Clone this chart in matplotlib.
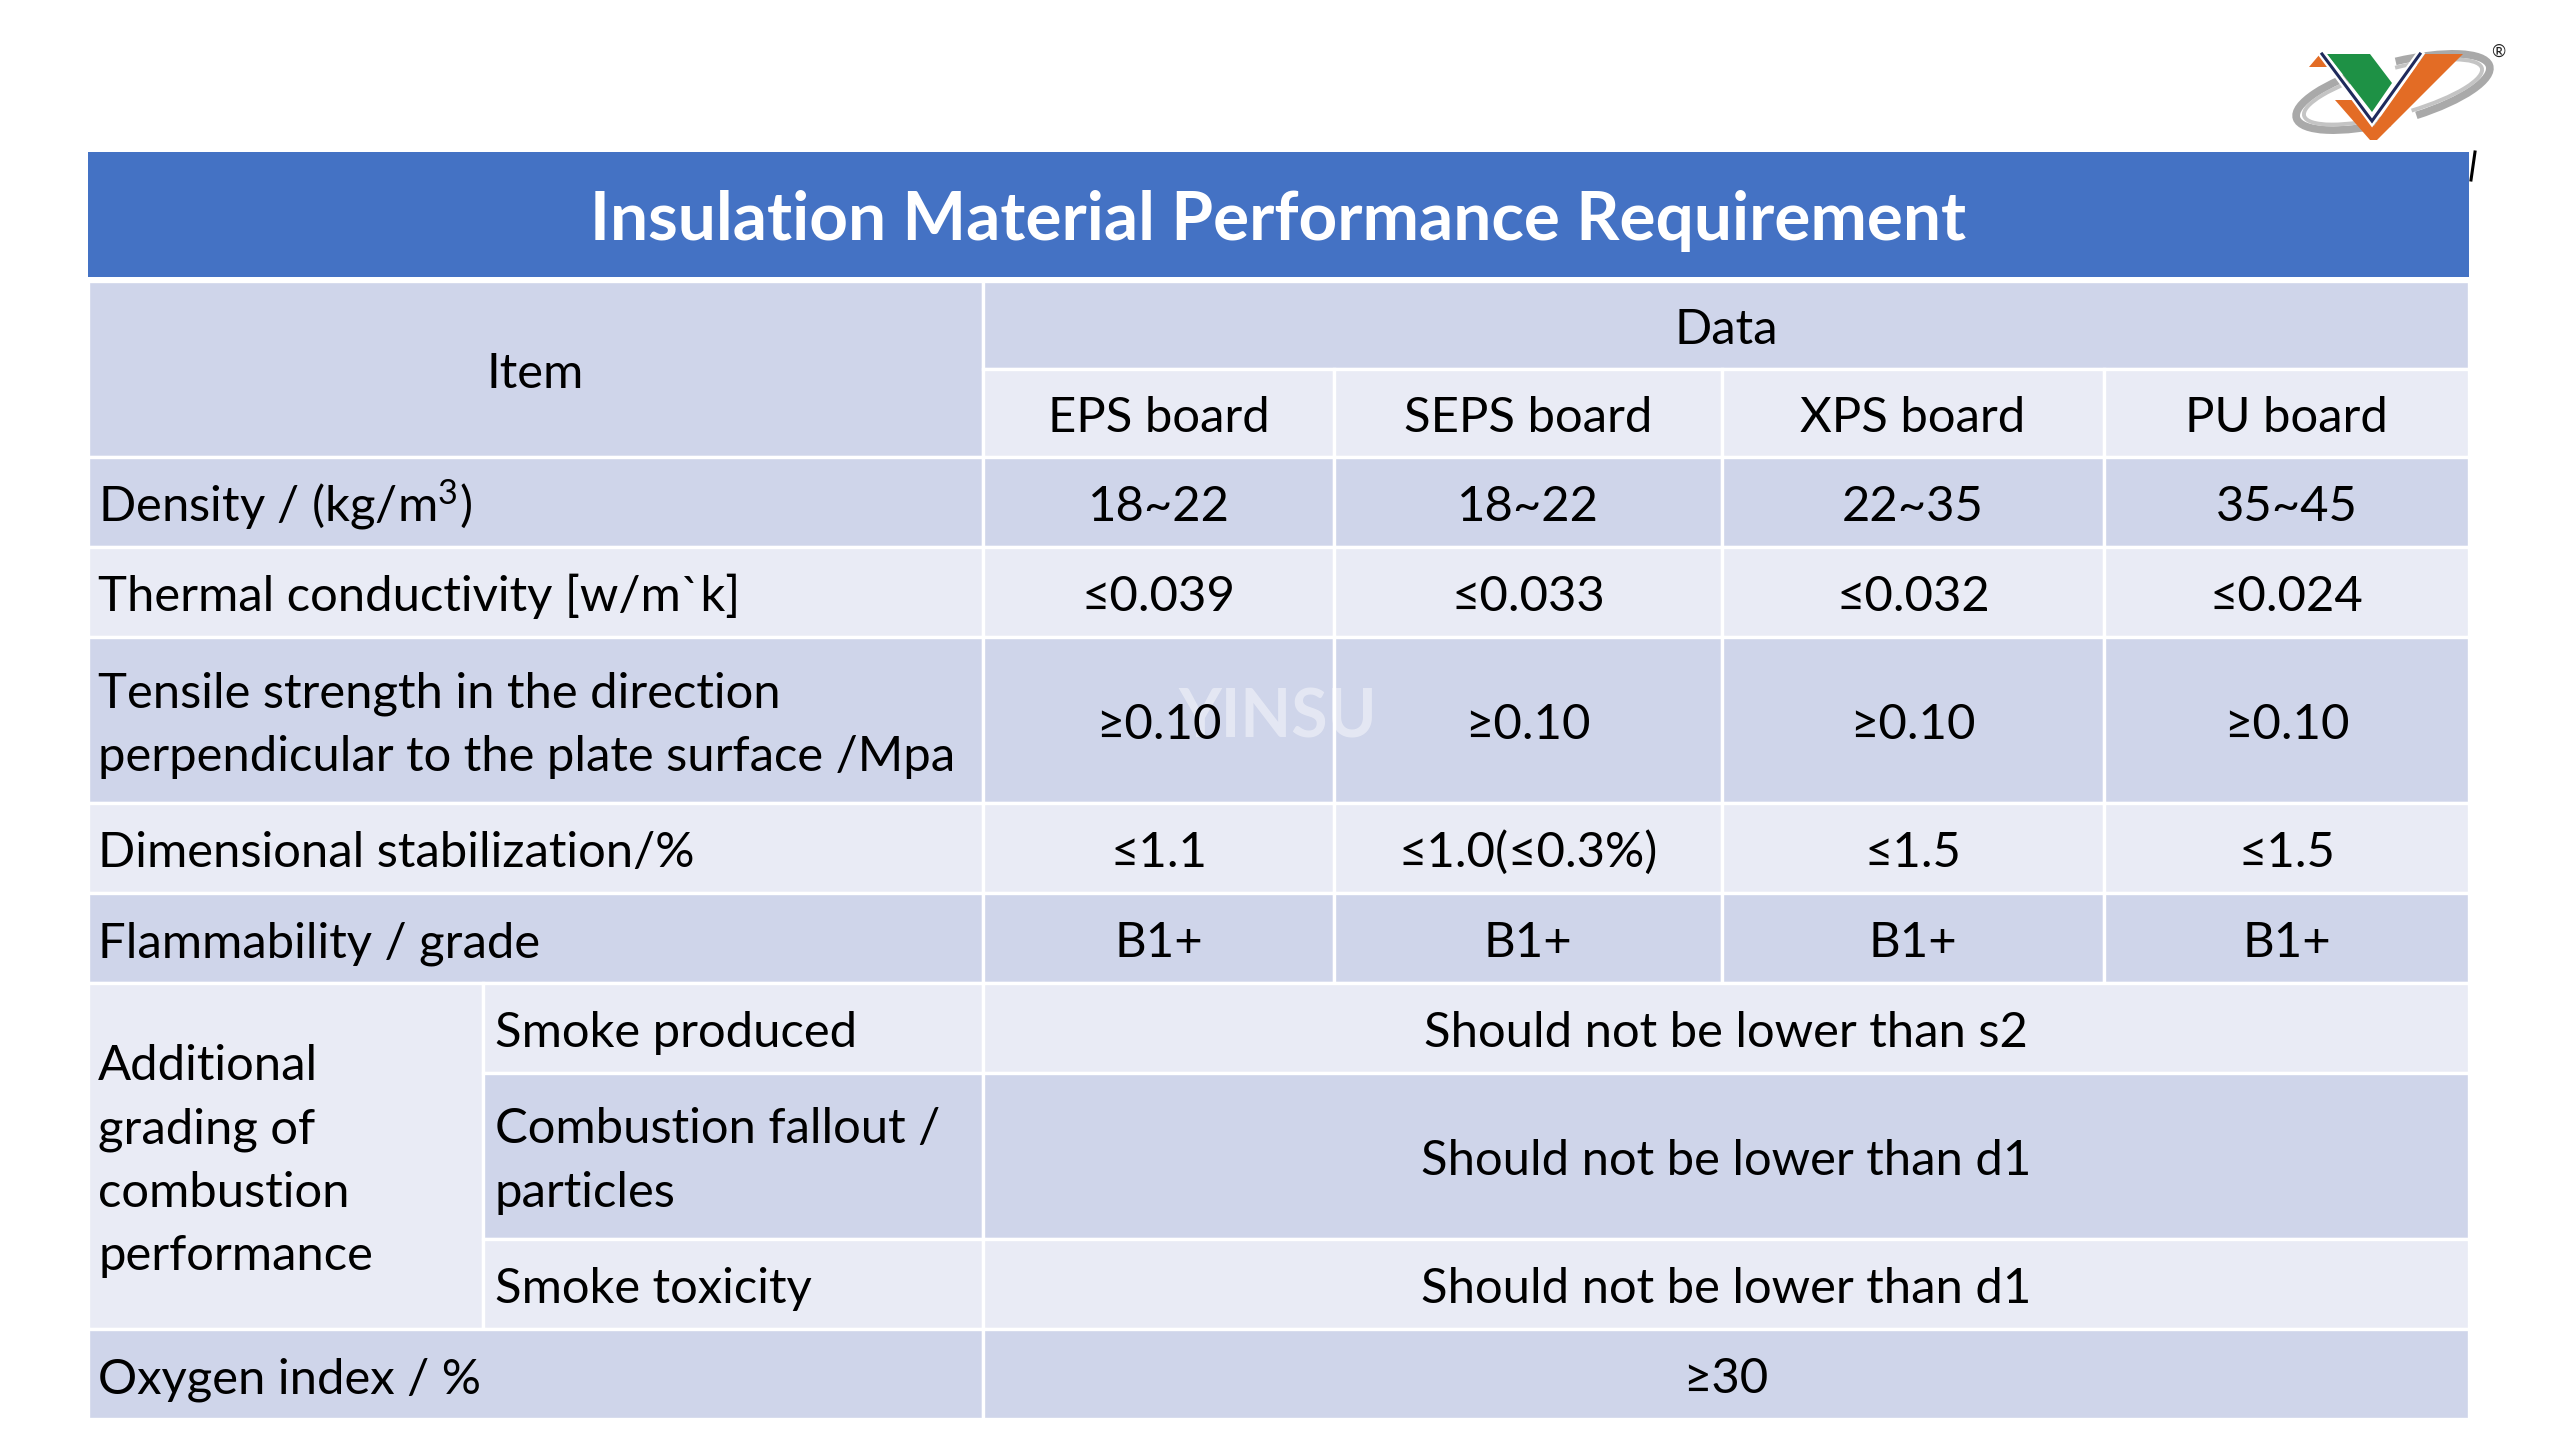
import matplotlib
matplotlib.use("Agg")
import matplotlib.pyplot as plt
from matplotlib.patches import Rectangle, Polygon, Arc

plt.rcParams["mathtext.fontset"] = "custom"
plt.rcParams["mathtext.rm"] = "Lato"
plt.rcParams["mathtext.it"] = "Lato:italic"
plt.rcParams["mathtext.bf"] = "Lato:bold"

# ---------------- data ----------------
title = "Insulation Material Performance Requirement"
item_header = "Item"
data_header = "Data"
boards = ["EPS board", "SEPS board", "XPS board", "PU board"]
properties = [
    "Density / (kg/m$^{3}$)",
    "Thermal conductivity [w/m`k]",
    "Tensile strength in the direction\nperpendicular to the plate surface /Mpa",
    "Dimensional stabilization/%",
    "Flammability / grade",
]
eps_values = ["18~22", "≤0.039", "≥0.10", "≤1.1", "B1+"]
seps_values = ["18~22", "≤0.033", "≥0.10", "≤1.0(≤0.3%)", "B1+"]
xps_values = ["22~35", "≤0.032", "≥0.10", "≤1.5", "B1+"]
pu_values = ["35~45", "≤0.024", "≥0.10", "≤1.5", "B1+"]
combustion_group = "Additional\ngrading of\ncombustion\nperformance"
combustion_items = ["Smoke produced", "Combustion fallout /\nparticles", "Smoke toxicity"]
combustion_values = ["Should not be lower than s2",
                     "Should not be lower than d1",
                     "Should not be lower than d1"]
oxygen_label = "Oxygen index / %"
oxygen_value = "≥30"
watermark = "YINSU"

# ---------------- layout (pixels) ----------------
W, H = 2560, 1440
FONT = ["Lato", "DejaVu Sans"]
DARK = "#CFD5EA"
LIGHT = "#E9EBF5"
BLUE = "#4472C4"

x_left, x_sub, x_data = 88, 483, 983
x_cols = [983, 1334, 1722, 2104, 2469]
y_title = (152, 277)
y_head = [281, 369, 457]
y_prop = [457, 547, 637, 803, 893, 983]
y_comb = [983, 1073, 1239, 1329]
y_oxy = [1329, 1419]

BODY_PX = 49
TITLE_PX = 67.5
LINE = 63.6
BASE_OFF = 19


def pt(px):
    return px * 72 / 100


fig = plt.figure(figsize=(W / 100, H / 100), dpi=100)
ax = fig.add_axes([0, 0, 1, 1])
ax.set_xlim(0, W)
ax.set_ylim(H, 0)
ax.axis("off")


def cell(x0, x1, y0, y1, color):
    ax.add_patch(Rectangle((x0, y0), x1 - x0, y1 - y0, facecolor=color,
                           edgecolor="white", lw=2.4, zorder=1))


def mtext(x, yc, s, ha="center", px=BODY_PX):
    lines = s.split("\n")
    n = len(lines)
    for i, line in enumerate(lines):
        yb = yc + (i - (n - 1) / 2) * LINE + BASE_OFF
        ax.text(x, yb, line, ha=ha, va="baseline", fontsize=pt(px),
                family=FONT, color="black", zorder=3)


# title bar
ax.add_patch(Rectangle((x_left, y_title[0]), x_cols[-1] - x_left,
                       y_title[1] - y_title[0], facecolor=BLUE, lw=0, zorder=1))
ax.text((x_left + x_cols[-1]) / 2, 240, title, ha="center", va="baseline",
        fontsize=pt(TITLE_PX), family=FONT, weight="bold", color="white", zorder=3)

# header
cell(x_left, x_data, y_head[0], y_head[2], DARK)
mtext((x_left + x_data) / 2, (y_head[0] + y_head[2]) / 2, item_header)
cell(x_data, x_cols[-1], y_head[0], y_head[1], DARK)
mtext((x_data + x_cols[-1]) / 2, (y_head[0] + y_head[1]) / 2, data_header)
for j, b in enumerate(boards):
    cell(x_cols[j], x_cols[j + 1], y_head[1], y_head[2], LIGHT)
    mtext((x_cols[j] + x_cols[j + 1]) / 2, (y_head[1] + y_head[2]) / 2, b)

# property rows
columns = [eps_values, seps_values, xps_values, pu_values]
for i, prop in enumerate(properties):
    color = DARK if i % 2 == 0 else LIGHT
    y0, y1 = y_prop[i], y_prop[i + 1]
    yc = (y0 + y1) / 2
    cell(x_left, x_data, y0, y1, color)
    mtext(x_left + 10, yc, prop, ha="left")
    for j, vals in enumerate(columns):
        cell(x_cols[j], x_cols[j + 1], y0, y1, color)
        mtext((x_cols[j] + x_cols[j + 1]) / 2, yc, vals[i])

# combustion block
cell(x_left, x_sub, y_comb[0], y_comb[-1], LIGHT)
mtext(x_left + 10, (y_comb[0] + y_comb[-1]) / 2, combustion_group, ha="left")
for i, (it, val) in enumerate(zip(combustion_items, combustion_values)):
    color = LIGHT if i % 2 == 0 else DARK
    y0, y1 = y_comb[i], y_comb[i + 1]
    yc = (y0 + y1) / 2
    cell(x_sub, x_data, y0, y1, color)
    mtext(x_sub + 12, yc, it, ha="left")
    cell(x_data, x_cols[-1], y0, y1, color)
    mtext((x_data + x_cols[-1]) / 2, yc, val)

# oxygen row
cell(x_left, x_data, y_oxy[0], y_oxy[1], DARK)
mtext(x_left + 10, (y_oxy[0] + y_oxy[1]) / 2, oxygen_label, ha="left")
cell(x_data, x_cols[-1], y_oxy[0], y_oxy[1], DARK)
mtext((x_data + x_cols[-1]) / 2, (y_oxy[0] + y_oxy[1]) / 2, oxygen_value)

# watermark
ax.text(1278, 737, watermark, ha="center", va="baseline", fontsize=pt(66),
        family=FONT, weight="bold", color="white", alpha=0.45, zorder=2)

# ---------------- logo ----------------
cx, cy = 2393, 92
for (w, h, lw, col) in [(200, 58, 5.5, "#a9a9a9"), (184, 46, 2.8, "#c4c4c4")]:
    ax.add_patch(Arc((cx, cy), w, h, angle=-15, theta1=110, theta2=245,
                     lw=lw, color=col, zorder=4))
    ax.add_patch(Arc((cx, cy), w, h, angle=-15, theta1=-70, theta2=60,
                     lw=lw, color=col, zorder=4))
ax.add_patch(Polygon([(2309, 67), (2320, 54), (2332, 67)], closed=True,
                     facecolor="#E36C25", lw=0, zorder=5))
ax.add_patch(Polygon([(2335, 100), (2355, 100), (2374, 126), (2425, 54),
                      (2463, 54), (2377, 140), (2370, 140)], closed=True,
                     facecolor="#E36C25", lw=0, zorder=5))
ax.add_patch(Polygon([(2327, 54), (2370, 54), (2392, 83), (2372, 112)],
                     closed=True, facecolor="#1E9145", lw=0, zorder=5))
ax.plot([2322, 2372, 2420], [54, 121, 54], color="white", lw=5.5,
        solid_joinstyle="miter", zorder=6)
ax.plot([2322, 2372, 2420], [54, 121, 54], color="#1F2A5C", lw=2.2,
        solid_joinstyle="miter", zorder=7)
ax.text(2498, 52, "®", ha="center", va="center", fontsize=pt(17),
        family=FONT, color="#222222", zorder=7)
ax.plot([2475, 2471], [152, 180], color="black", lw=2.2, zorder=7)

fig.savefig("out.png", dpi=100, facecolor="white")
